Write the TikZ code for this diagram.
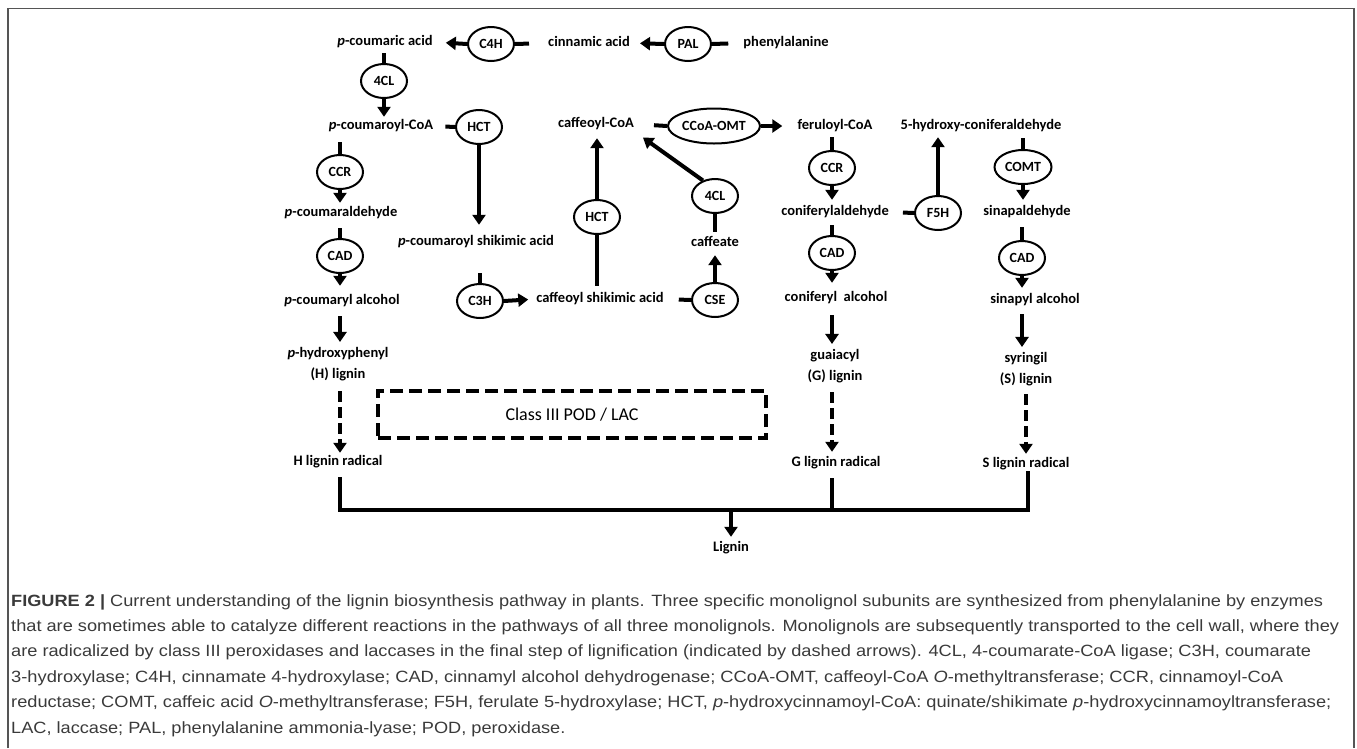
\documentclass[tikz,border=0pt]{standalone}
\usepackage{fontspec}
\setmainfont{Carlito}
\newfontfamily\capfont{Liberation Sans}
\usetikzlibrary{arrows.meta,shapes.geometric}
\definecolor{capgray}{HTML}{3A3A3A}
\definecolor{framegray}{HTML}{555555}
\newcommand\capfit[2]{\resizebox{#1}{\height}{#2}}
\newlength\capnatw
\tikzset{
  chem/.style={font=\bfseries\fontsize{14.5}{17}\selectfont, inner sep=0pt, text height=10.5pt, text depth=3.5pt},
  chemtwo/.style={font=\bfseries\fontsize{14.5}{21}\selectfont, inner sep=0pt, align=center},
  enz/.style={ellipse, draw, line width=2pt, minimum width=46pt, minimum height=34pt, inner sep=0pt, font=\bfseries\fontsize{14}{16}\selectfont},
  arr/.style={line width=4pt, -{Triangle[width=13pt,length=10pt]}},
  stub/.style={line width=4pt},
  darr/.style={line width=4pt, dash pattern=on 11pt off 5pt, -{Triangle[width=13pt,length=10pt]}},
  barline/.style={line width=4pt, line join=miter},
  podbox/.style={draw, line width=4pt, dash pattern=on 13pt off 6pt, minimum width=388pt, minimum height=47pt, inner sep=0pt, font=\fontsize{18}{21}\selectfont},
  captext/.style={anchor=base west, inner sep=0pt, font=\capfont\fontsize{16.3}{24}\selectfont, text=capgray},
}
\begin{document}
\settowidth\capnatw{\capfont\fontsize{16.3}{24}\selectfont\textbf{FIGURE 2 |} Current understanding of the lignin biosynthesis pathway in plants. Three specific monolignol subunits are synthesized from phenylalanine by enzymes}%
\pgfmathsetmacro{\capsx}{1312/\capnatw}%
\begin{tikzpicture}[x=1pt,y=-1pt]
\useasboundingbox (0,0) rectangle (1357,748);
\draw[framegray, line width=1.6pt] (8,748) -- (8,8.5) -- (1354,8.5) -- (1354,748);

% substrates / products
\node[chem] (pca)  at (385,42)  {\textit{p}-coumaric acid};
\node[chem] (cin)  at (589,43)  {cinnamic acid};
\node[chem] (phe)  at (786,43)  {phenylalanine};
\node[chem] (pcoa) at (381,126) {\textit{p}-coumaroyl-CoA};
\node[chem] (caf)  at (596,124) {caffeoyl-CoA};
\node[chem] (fer)  at (835,126) {feruloyl-CoA};
\node[chem] (hcon) at (981,126) {5-hydroxy-coniferaldehyde};
\node[chem] (pald) at (341,213) {\textit{p}-coumaraldehyde};
\node[chem] (con)  at (835,212) {coniferylaldehyde};
\node[chem] (sin)  at (1027,212) {sinapaldehyde};
\node[chem] (pcsh) at (476,242) {\textit{p}-coumaroyl shikimic acid};
\node[chem] (cafe) at (715,243) {caffeate};
\node[chem] (palc) at (342,301) {\textit{p}-coumaryl alcohol};
\node[chem] (cfsh) at (600,299) {caffeoyl shikimic acid};
\node[chem] (calc) at (836,298) {coniferyl\ \ alcohol};
\node[chem] (salc) at (1035,300) {sinapyl alcohol};
\node[chemtwo] (hlig) at (338,364) {\textit{p}-hydroxyphenyl\\(H) lignin};
\node[chemtwo] (glig) at (835,366) {guaiacyl\\(G) lignin};
\node[chemtwo] (slig) at (1026,369) {syringil\\(S) lignin};
\node[chem] (hrad) at (338,462) {H lignin radical};
\node[chem] (grad) at (836,463) {G lignin radical};
\node[chem] (srad) at (1026,464) {S lignin radical};
\node[chem] (lig)  at (731,548) {Lignin};
\node[podbox] (pod) at (572,414.5) {Class III POD / LAC};

% enzymes
\node[enz] (c4h)  at (491,44)  {C4H};
\node[enz] (pal)  at (688,44)  {PAL};
\node[enz] (cl1)  at (384,81)  {4CL};
\node[enz] (hct1) at (479,127) {HCT};
\node[enz, minimum width=92pt, minimum height=35pt] (ccoa) at (714,126) {CCoA-OMT};
\node[enz] (ccr1) at (340,172) {CCR};
\node[enz] (ccr2) at (832,168) {CCR};
\node[enz, minimum width=57pt] (comt) at (1023,167) {COMT};
\node[enz] (cl2)  at (715,196) {4CL};
\node[enz] (f5h)  at (938,213) {F5H};
\node[enz] (hct2) at (597,217) {HCT};
\node[enz] (cad1) at (340,256) {CAD};
\node[enz] (cad2) at (832,253) {CAD};
\node[enz] (cad3) at (1022,258) {CAD};
\node[enz] (c3h)  at (480,301) {C3H};
\node[enz] (cse)  at (715,300) {CSE};

% top row
\draw[stub, shorten <=15pt] (phe.west) -- (pal.east);
\draw[arr, shorten >=10pt] (pal.west) -- (cin.east);
\draw[stub, shorten <=19pt] (cin.west) -- (c4h.east);
\draw[arr, shorten >=13pt] (c4h.west) -- (pca.east);
\draw[stub, shorten <=4pt] (cl1.north |- pca.south) -- (cl1.north);
\draw[arr, shorten >=2pt] (cl1.south) -- (cl1.south |- pcoa.north);

% HCT / C3H branch
\draw[stub, shorten <=12pt] (pcoa.east) -- (hct1.west);
\draw[arr, shorten >=10pt] (hct1.south) -- (hct1.south |- pcsh.north);
\draw[stub, shorten <=24pt] (c3h.north |- pcsh.south) -- (c3h.north);
\draw[arr, shorten >=8pt] (c3h.east) -- (cfsh.west);
\draw[stub, shorten <=6pt] (hct2.south |- cfsh.north) -- (hct2.south);
\draw[arr, shorten >=7pt] (hct2.north) -- (hct2.north |- caf.south);
\draw[stub, shorten <=15pt] (cfsh.east) -- (cse.west);
\draw[arr, shorten >=5pt] (cse.north) -- (cse.north |- cafe.south);
\draw[stub, shorten >=4pt] (cl2.south) -- (cl2.south |- cafe.north);
\draw[arr, shorten >=11pt] (cl2.128) -- (caf.south east);
\draw[stub, shorten <=20pt] (caf.east) -- (ccoa.west);
\draw[arr, shorten >=15pt] (ccoa.east) -- (fer.west);

% H column
\draw[stub, shorten <=9pt] (ccr1.north |- pcoa.south) -- (ccr1.north);
\draw[arr, shorten >=3pt] (ccr1.south) -- (ccr1.south |- pald.north);
\draw[stub, shorten <=8pt] (cad1.north |- pald.south) -- (cad1.north);
\draw[arr, shorten >=8pt] (cad1.south) -- (cad1.south |- palc.north);
\draw[arr, shorten <=8pt, shorten >=5pt] (cad1.south |- palc.south) -- (cad1.south |- hlig.north);
\draw[darr, shorten <=10pt, shorten >=2pt] (cad1.south |- hlig.south) -- (cad1.south |- hrad.north);

% G column
\draw[stub, shorten <=4pt] (ccr2.north |- fer.south) -- (ccr2.north);
\draw[arr, shorten >=5pt] (ccr2.south) -- (ccr2.south |- con.north);
\draw[stub, shorten <=6pt] (cad2.north |- con.south) -- (cad2.north);
\draw[arr, shorten >=8pt] (cad2.south) -- (cad2.south |- calc.north);
\draw[arr, shorten <=10pt, shorten >=5pt] (cad2.south |- calc.south) -- (cad2.south |- glig.north);
\draw[darr, shorten <=9pt, shorten >=4pt] (cad2.south |- glig.south) -- (cad2.south |- grad.north);
\draw[stub, shorten <=14pt] (con.east) -- (f5h.west);
\draw[arr, shorten >=4pt] (f5h.north) -- (f5h.north |- hcon.south);

% S column
\draw[stub, shorten <=5pt] (comt.north |- hcon.south) -- (comt.north);
\draw[arr, shorten >=5pt] (comt.south) -- (comt.south |- sin.north);
\draw[stub, shorten <=8pt] (cad3.north |- sin.south) -- (cad3.north);
\draw[arr, shorten >=5pt] (cad3.south) -- (cad3.south |- salc.north);
\draw[arr, shorten <=7pt, shorten >=5pt] (cad3.south |- salc.south) -- (cad3.south |- slig.north);
\draw[darr, shorten <=8pt, shorten >=3pt] (srad.north |- slig.south) -- (srad.north);

% collecting bar
\coordinate (bl) at (340,510);
\coordinate (br) at (1028,510);
\draw[barline, shorten <=8pt] (bl |- hrad.south) -- (bl) -- (br) -- (br |- srad.south);
\draw[barline, shorten <=8pt] (cad2.south |- grad.south) -- (cad2.south |- bl);
\draw[arr, shorten >=4pt] (lig.north |- bl) -- (lig.north);

% caption
\node[captext] (cap1) at (11,606) {\capfit{1312pt}{\textbf{FIGURE 2 |} Current understanding of the lignin biosynthesis pathway in plants. Three specific monolignol subunits are synthesized from phenylalanine by enzymes}};
\node[captext] (cap2) at (11,631.4) {\capfit{1328pt}{that are sometimes able to catalyze different reactions in the pathways of all three monolignols. Monolignols are subsequently transported to the cell wall, where they}};
\node[captext] (cap3) at (11,656.8) {\capfit{1300pt}{are radicalized by class III peroxidases and laccases in the final step of lignification (indicated by dashed arrows). 4CL, 4-coumarate-CoA ligase; C3H, coumarate}};
\node[captext] (cap4) at (11,682.2) {\capfit{1272pt}{3-hydroxylase; C4H, cinnamate 4-hydroxylase; CAD, cinnamyl alcohol dehydrogenase; CCoA-OMT, caffeoyl-CoA \textit{O}-methyltransferase; CCR, cinnamoyl-CoA}};
\node[captext] (cap5) at (11,707.6) {\capfit{1320pt}{reductase; COMT, caffeic acid \textit{O}-methyltransferase; F5H, ferulate 5-hydroxylase; HCT, \textit{p}-hydroxycinnamoyl-CoA: quinate/shikimate \textit{p}-hydroxycinnamoyltransferase;}};
\node[captext] (cap6) at (11,733) {\scalebox{\capsx}[1]{LAC, laccase; PAL, phenylalanine ammonia-lyase; POD, peroxidase.}};
\end{tikzpicture}
\end{document}
